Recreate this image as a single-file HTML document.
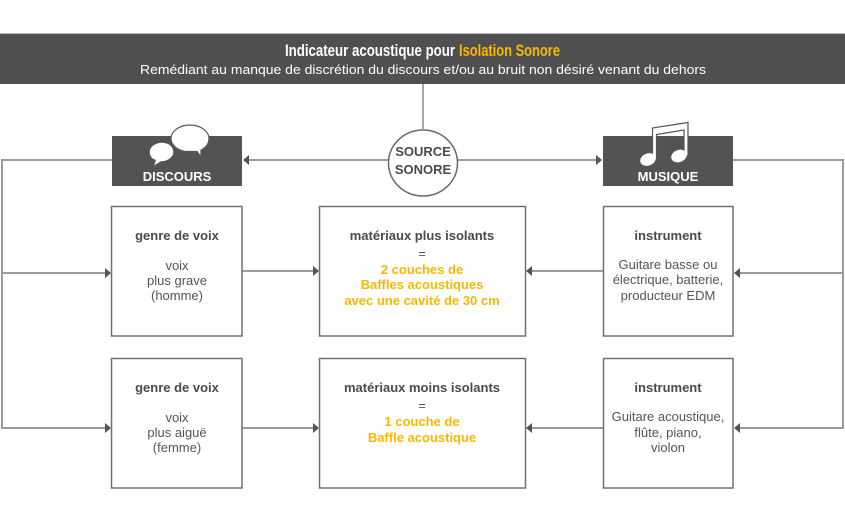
<!DOCTYPE html>
<html>
<head>
<meta charset="utf-8">
<style>
  html,body{margin:0;padding:0;background:#fff;}
  body{width:845px;height:527px;overflow:hidden;}
  svg{display:block;}
  .h{font-family:"Liberation Sans",Arial,sans-serif;font-weight:bold;font-size:13px;fill:#4a4a4c;}
  .t{font-family:"Liberation Sans",Arial,sans-serif;font-size:13px;fill:#555557;}
  .y{font-family:"Liberation Sans",Arial,sans-serif;font-weight:bold;font-size:13px;fill:#f7b900;}
  .w{font-family:"Liberation Sans",Arial,sans-serif;font-weight:bold;font-size:13px;fill:#ffffff;}
</style>
</head>
<body>
<svg width="845" height="527" viewBox="0 0 845 527" xmlns="http://www.w3.org/2000/svg">
  <!-- header -->
  <rect x="0" y="33" width="845" height="1" fill="#bdbdbd"/>
  <rect x="0" y="34" width="845" height="50" fill="#505052"/>
  <text x="285" y="56" textLength="170" lengthAdjust="spacingAndGlyphs" style="font-family:'Liberation Sans Narrow','Liberation Sans',sans-serif;font-weight:bold;font-size:17px;fill:#fff;">Indicateur acoustique pour</text>
  <text x="459" y="56" textLength="101" lengthAdjust="spacingAndGlyphs" style="font-family:'Liberation Sans Narrow','Liberation Sans',sans-serif;font-weight:bold;font-size:17px;fill:#f7b900;">Isolation Sonore</text>
  <text x="423" y="74" text-anchor="middle" textLength="566" lengthAdjust="spacingAndGlyphs" style="font-family:'Liberation Sans',Arial,sans-serif;font-size:13px;fill:#fff;">Remédiant au manque de discrétion du discours et/ou au bruit non désiré venant du dehors</text>

  <!-- connectors -->
  <g stroke="#9c9c9c" stroke-width="2" fill="none">
    <line x1="423" y1="84" x2="423" y2="129" stroke="#888" stroke-width="1.5"/>
    <line x1="248" y1="160" x2="389" y2="160"/>
    <line x1="457" y1="160" x2="597" y2="160"/>
    <path d="M112,160 H2 V428 H106"/>
    <path d="M2,273 H106"/>
    <path d="M733,160 H843 V428 H739"/>
    <path d="M843,273 H739"/>
    <line x1="242" y1="271" x2="314" y2="271"/>
    <line x1="603" y1="271" x2="531" y2="271"/>
    <line x1="242" y1="428" x2="314" y2="428"/>
    <line x1="603" y1="428" x2="531" y2="428"/>
  </g>
  <!-- arrowheads -->
  <g fill="#555557">
    <polygon points="243,160 249,155 249,165"/>
    <polygon points="602,160 596,155 596,165"/>
    <polygon points="111,273 105,268 105,278"/>
    <polygon points="111,428 105,423 105,433"/>
    <polygon points="734,273 740,268 740,278"/>
    <polygon points="734,428 740,423 740,433"/>
    <polygon points="319,271 313,266 313,276"/>
    <polygon points="526,271 532,266 532,276"/>
    <polygon points="319,428 313,423 313,433"/>
    <polygon points="526,428 532,423 532,433"/>
  </g>

  <!-- source circle -->
  <ellipse cx="423" cy="163" rx="34.5" ry="33" fill="#fff" stroke="#6a6a6a" stroke-width="1.5"/>
  <text x="423" y="156" text-anchor="middle" class="h">SOURCE</text>
  <text x="423" y="174" text-anchor="middle" class="h">SONORE</text>

  <!-- DISCOURS box -->
  <rect x="112" y="136" width="130" height="50" fill="#535355"/>
  <!-- big bubble -->
  <path d="M190,125 C180,125 171,131 171,138.5 C171,145 177,150 185,151.5 L197,151.5 L201,157 L201,150 C206,147.5 209,143.5 209,138.5 C209,131 200,125 190,125 Z" fill="#fff" stroke="#555557" stroke-width="1.2"/>
  <!-- small bubble -->
  <path d="M162,142 C155,142 149,146.5 149,152 C149,156 151,159 155,160.5 L153,167 L161,162 C168,162 174,157.5 174,152 C174,146.5 169,142 162,142 Z" fill="#fff" stroke="#535355" stroke-width="1.5"/>
  <text x="177" y="181" text-anchor="middle" class="w">DISCOURS</text>

  <!-- MUSIQUE box -->
  <rect x="603" y="136" width="130" height="50" fill="#535355"/>
  <!-- note -->
  <path d="M652.5,159 L652.5,128 L688,122.5 L688,156 L684,156 L684,130 L656.5,134.5 L656.5,159 Z" fill="#fff" stroke="#555557" stroke-width="1.2" stroke-linejoin="miter"/>
  <ellipse cx="648" cy="159.5" rx="8" ry="6" transform="rotate(-22 648 159.5)" fill="#fff"/>
  <ellipse cx="679" cy="156" rx="8" ry="6" transform="rotate(-22 679 156)" fill="#fff"/>
  <text x="668" y="181" text-anchor="middle" class="w">MUSIQUE</text>

  <!-- boxes -->
  <g fill="#fff" stroke="#707070" stroke-width="1.5">
    <rect x="111.5" y="206.5" width="130.5" height="129.5"/>
    <rect x="319.5" y="206.5" width="206" height="129.5"/>
    <rect x="603.5" y="206.5" width="129.5" height="129.5"/>
    <rect x="111.5" y="358.5" width="130.5" height="129.5"/>
    <rect x="319.5" y="358.5" width="206" height="129.5"/>
    <rect x="603.5" y="358.5" width="129.5" height="129.5"/>
  </g>

  <!-- row 1 text -->
  <text x="177" y="240" text-anchor="middle" class="h">genre de voix</text>
  <text x="177" y="270" text-anchor="middle" class="t">voix</text>
  <text x="177" y="285" text-anchor="middle" class="t">plus grave</text>
  <text x="177" y="300" text-anchor="middle" class="t">(homme)</text>

  <text x="422" y="240" text-anchor="middle" class="h">matériaux plus isolants</text>
  <text x="422" y="258" text-anchor="middle" class="t">=</text>
  <text x="422" y="274" text-anchor="middle" class="y">2 couches de</text>
  <text x="422" y="289" text-anchor="middle" class="y">Baffles acoustiques</text>
  <text x="422" y="305" text-anchor="middle" class="y">avec une cavité de 30 cm</text>

  <text x="668" y="240" text-anchor="middle" class="h">instrument</text>
  <text x="668" y="269" text-anchor="middle" class="t">Guitare basse ou</text>
  <text x="668" y="284" text-anchor="middle" class="t">électrique, batterie,</text>
  <text x="668" y="300" text-anchor="middle" class="t">producteur EDM</text>

  <!-- row 2 text -->
  <text x="177" y="392" text-anchor="middle" class="h">genre de voix</text>
  <text x="177" y="422" text-anchor="middle" class="t">voix</text>
  <text x="177" y="437" text-anchor="middle" class="t">plus aiguë</text>
  <text x="177" y="452" text-anchor="middle" class="t">(femme)</text>

  <text x="422" y="392" text-anchor="middle" class="h">matériaux moins isolants</text>
  <text x="422" y="410" text-anchor="middle" class="t">=</text>
  <text x="422" y="426" text-anchor="middle" class="y">1 couche de</text>
  <text x="422" y="442" text-anchor="middle" class="y">Baffle acoustique</text>

  <text x="668" y="392" text-anchor="middle" class="h">instrument</text>
  <text x="668" y="421" text-anchor="middle" class="t">Guitare acoustique,</text>
  <text x="668" y="437" text-anchor="middle" class="t">flûte, piano,</text>
  <text x="668" y="452" text-anchor="middle" class="t">violon</text>
</svg>
</body>
</html>
